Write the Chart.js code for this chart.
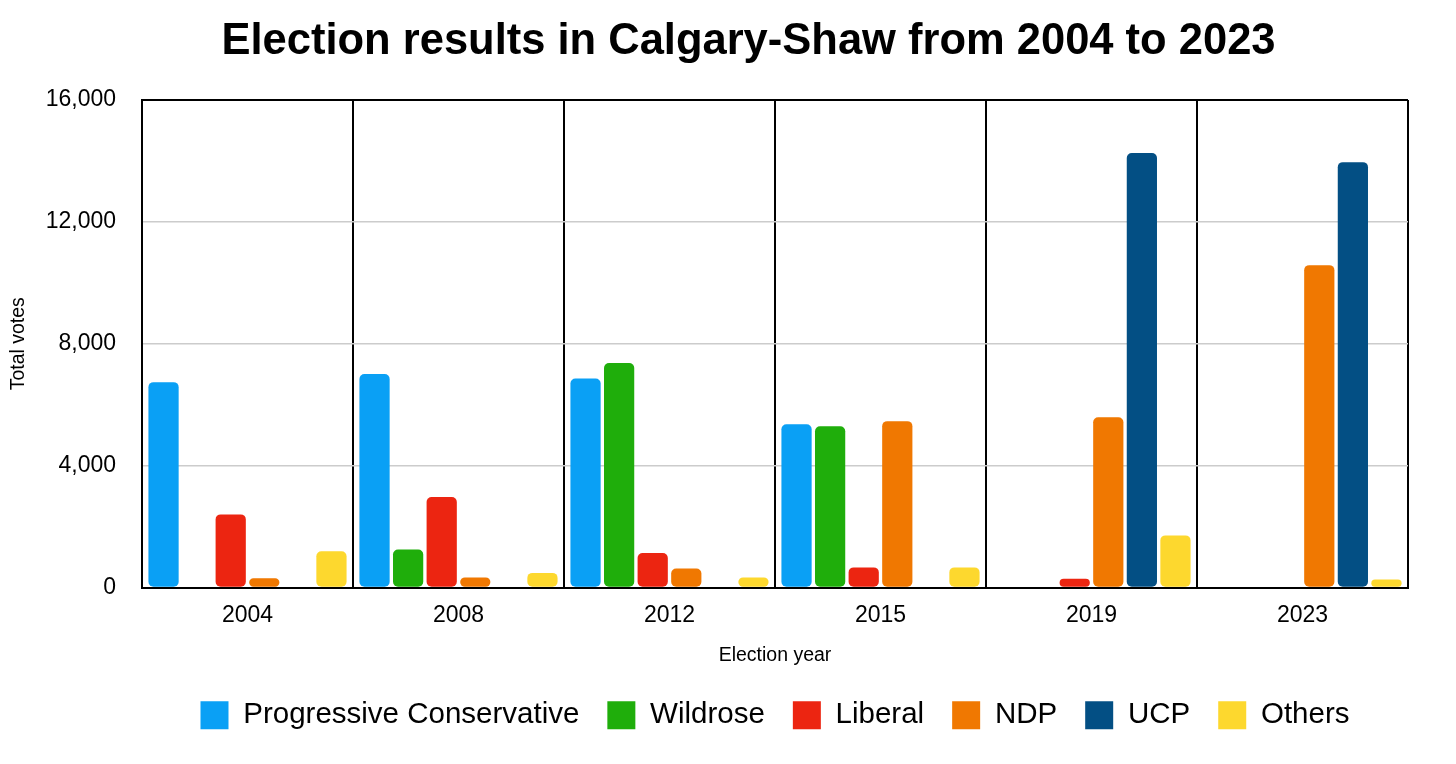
<!DOCTYPE html>
<html>
<head>
<meta charset="utf-8">
<script src="https://cdn.jsdelivr.net/npm/chart.js@4"></script>
<style>
  html, body { margin: 0; padding: 0; background: #fff; }
  #wrap { position: relative; width: 1456px; height: 764px; }
  #title {
    position: absolute; left: 0; top: 17.5px; width: 1497px; margin: 0;
    text-align: center; font: bold 43.5px/1 "Liberation Sans", Arial, sans-serif; color: #000;
  }
</style>
</head>
<body>
<div id="wrap">
  <h1 id="title">Election results in Calgary-Shaw from 2004 to 2023</h1>
  <canvas id="electionChart" width="1456" height="764"></canvas>
</div>
<script>
// Election years (categories)
const years = ["2004", "2008", "2012", "2015", "2019", "2023"];

// Votes per party (null = party did not run)
const pcVotes = [6740, 7010, 6860, 5360, null, null];
const wildroseVotes = [null, 1250, 7370, 5290, null, null];
const liberalVotes = [2400, 2970, 1130, 660, 290, null];
const ndpVotes = [300, 330, 620, 5460, 5590, 10580];
const ucpVotes = [null, null, null, null, 14260, 13960];
const othersVotes = [1190, 480, 330, 660, 1710, 260];

// y axis ticks
const yTicks = [0, 4000, 8000, 12000, 16000];

const partyNames = ["Progressive Conservative", "Wildrose", "Liberal", "NDP", "UCP", "Others"];
const partyColors = ["#0aa0f5", "#1fae0b", "#ec2511", "#f07801", "#034f84", "#fdd82e"];
const partyVotes = [pcVotes, wildroseVotes, liberalVotes, ndpVotes, ucpVotes, othersVotes];

const FONT = '"Liberation Sans", Arial, sans-serif';

const ctx = document.getElementById("electionChart").getContext("2d");

new Chart(ctx, {
    type: "bar",
    data: {
        labels: years,
        datasets: partyNames.map((name, i) => ({
            label: name,
            data: partyVotes[i],
            backgroundColor: partyColors[i],
            borderWidth: 0,
            borderRadius: 5,
            borderSkipped: false,
            categoryPercentage: 0.955,
            barPercentage: 0.9,
        })),
    },
    options: {
        responsive: false,
        animation: false,
        layout: {
            padding: { top: 100, right: 48, bottom: 24, left: 0 },
        },
        plugins: {
            title: { display: false },
            tooltip: { enabled: false },
            legend: {
                position: "bottom",
                fullSize: false,
                labels: {
                    boxWidth: 28,
                    boxHeight: 28,
                    padding: 28,
                    color: "#000",
                    font: { family: FONT, size: 29.5 },
                },
            },
        },
        scales: {
            x: {
                grid: {
                    offset: true,
                    color: "#000",
                    lineWidth: 2,
                    drawTicks: false,
                },
                border: { color: "#000", width: 2 },
                ticks: {
                    color: "#000",
                    padding: 14,
                    font: { family: FONT, size: 23 },
                },
                title: {
                    display: true,
                    text: "Election year",
                    color: "#000",
                    font: { family: FONT, size: 19.5 },
                    padding: { top: 1, bottom: 5 },
                },
            },
            y: {
                min: 0,
                max: 16000,
                afterBuildTicks: (scale) => {
                    scale.ticks = yTicks.map((v) => ({ value: v }));
                },
                afterFit: (scale) => {
                    scale.width = 142;
                },
                grid: {
                    color: (c) => (c.tick && c.tick.value === 16000 ? "#000" : "#cccccc"),
                    lineWidth: (c) => (c.tick && c.tick.value === 16000 ? 2 : 1.5),
                    drawTicks: false,
                },
                border: { color: "#000", width: 2 },
                ticks: {
                    color: "#000",
                    padding: 26,
                    font: { family: FONT, size: 23 },
                    callback: (v) => v.toLocaleString("en-US"),
                },
                title: {
                    display: true,
                    text: "Total votes",
                    color: "#000",
                    font: { family: FONT, size: 19.5 },
                    padding: { top: 7, bottom: 0 },
                },
            },
        },
    },
});
</script>
</body>
</html>
